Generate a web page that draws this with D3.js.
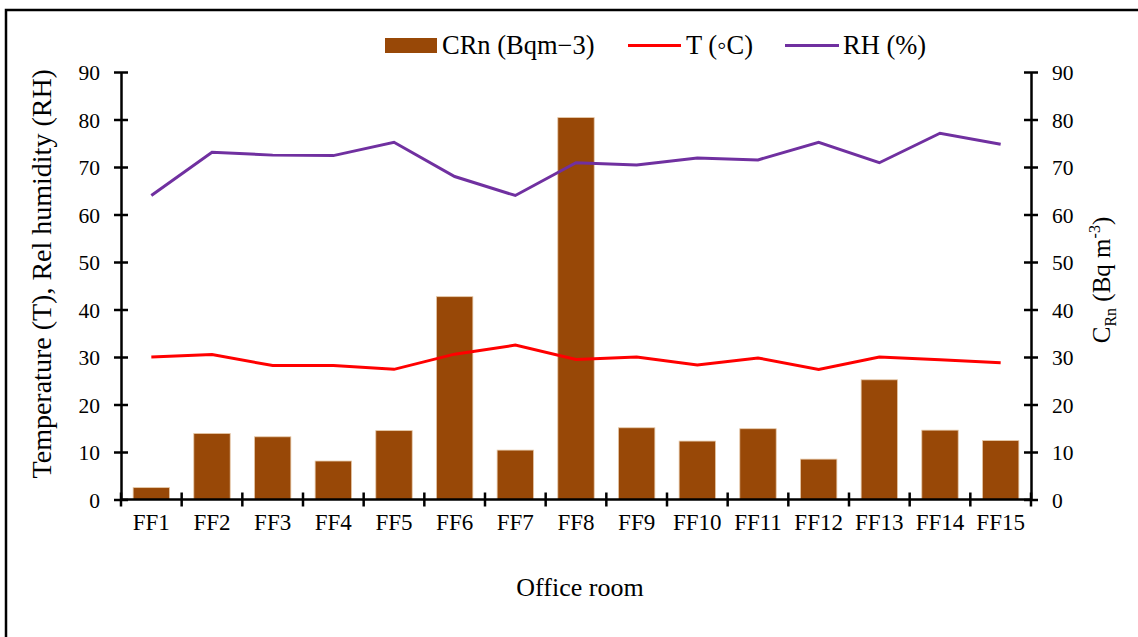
<!DOCTYPE html>
<html>
<head>
<meta charset="utf-8">
<script src="https://cdn.jsdelivr.net/npm/d3@7"></script>
<style>
  body { margin: 0; background: #fff; }
</style>
</head>
<body>
<svg id="chart" width="1138" height="637" font-family="'Liberation Serif', 'DejaVu Serif', serif"></svg>
<script>
// office rooms and the three measured series
const rooms = ["FF1", "FF2", "FF3", "FF4", "FF5", "FF6", "FF7", "FF8",
  "FF9", "FF10", "FF11", "FF12", "FF13", "FF14", "FF15"];
const radon = [2.5, 13.9, 13.2, 8.1, 14.5, 42.7, 10.4, 80.4, 15.1, 12.3, 14.9, 8.5, 25.2, 14.6, 12.4];
const temp = [30.0, 30.5, 28.2, 28.2, 27.4, 30.6, 32.5, 29.5, 30.0, 28.3, 29.8, 27.4, 30.0, 29.4, 28.8];
const humidity = [64.0, 73.1, 72.5, 72.4, 75.2, 68.0, 64.0, 70.9, 70.4, 71.9, 71.5, 75.2, 70.9, 77.1, 74.8];
const yTicks = [0, 10, 20, 30, 40, 50, 60, 70, 80, 90];

const colors = { bar: "#984807", temp: "#ff0000", rh: "#7030a0" };
const serif = "'Liberation Serif', 'DejaVu Serif', serif";

const svg = d3.select("#chart");
const plotLeft = 121, plotRight = 1031, plotTop = 72, plotBottom = 499.5;

// outer frame (runs off the right and bottom edges like the original)
svg.append("rect")
  .attr("x", 6).attr("y", 10)
  .attr("width", 1200).attr("height", 700)
  .attr("fill", "none").attr("stroke", "#000").attr("stroke-width", 2.5);

const x = d3.scaleBand()
  .domain(rooms)
  .range([plotLeft, plotRight])
  .paddingInner(0.4)
  .paddingOuter(0.2);

const yLeft = d3.scaleLinear().domain([0, 90]).range([plotBottom, plotTop]);
const yRight = d3.scaleLinear().domain([0, 90]).range([plotBottom, plotTop]);

// bars
svg.append("g").selectAll("rect")
  .data(rooms)
  .join("rect")
    .attr("x", d => x(d))
    .attr("y", (d, i) => yRight(radon[i]))
    .attr("width", x.bandwidth())
    .attr("height", (d, i) => yRight(0) - yRight(radon[i]))
    .attr("fill", colors.bar)
    .attr("stroke", "#e6c9a8")
    .attr("stroke-width", 0.8);

// lines
const line = d3.line()
  .x((d, i) => x(rooms[i]) + x.bandwidth() / 2)
  .y(d => yLeft(d));

svg.append("path").datum(temp)
  .attr("d", line).attr("fill", "none")
  .attr("stroke", colors.temp).attr("stroke-width", 3);

svg.append("path").datum(humidity)
  .attr("d", line).attr("fill", "none")
  .attr("stroke", colors.rh).attr("stroke-width", 3);

// axes: ticks cross the axis line on both sides
function styleAxis(g) {
  g.attr("font-family", serif).attr("font-size", 21.5);
  g.select(".domain").attr("stroke-width", 2.5);
  g.selectAll(".tick line").attr("stroke-width", 2.5);
  g.selectAll(".tick text").attr("fill", "#000");
}

const leftAxis = svg.append("g")
  .attr("transform", `translate(${plotLeft},0)`)
  .call(d3.axisLeft(yLeft).tickValues(yTicks).tickSizeInner(7).tickSizeOuter(0).tickPadding(14))
  .call(styleAxis);
leftAxis.selectAll(".tick line").attr("x1", 7);
leftAxis.selectAll(".tick text").attr("dy", "0.35em");

const rightAxis = svg.append("g")
  .attr("transform", `translate(${plotRight},0)`)
  .call(d3.axisRight(yRight).tickValues(yTicks).tickSizeInner(7).tickSizeOuter(0).tickPadding(14))
  .call(styleAxis);
rightAxis.selectAll(".tick line").attr("x1", -7);
rightAxis.selectAll(".tick text").attr("dy", "0.35em");

// category boundaries for the x ticks
const boundaries = d3.range(rooms.length + 1).map(i => plotLeft + i * x.step());
const xAxis = svg.append("g").attr("transform", `translate(0,${plotBottom})`);
xAxis.append("line")
  .attr("x1", plotLeft).attr("x2", plotRight)
  .attr("stroke", "#000").attr("stroke-width", 2.5);
xAxis.selectAll(".bt")
  .data(boundaries)
  .join("line")
    .attr("x1", d => d).attr("x2", d => d)
    .attr("y1", -7).attr("y2", 7)
    .attr("stroke", "#000").attr("stroke-width", 2.5);
xAxis.selectAll(".lbl")
  .data(rooms)
  .join("text")
    .attr("x", d => x(d) + x.bandwidth() / 2)
    .attr("y", 30)
    .attr("text-anchor", "middle")
    .attr("font-size", 23)
    .text(d => d);

// axis titles
svg.append("text")
  .attr("transform", `translate(51,${(plotTop + plotBottom) / 2 - 12}) rotate(-90)`)
  .attr("text-anchor", "middle")
  .attr("font-size", 28)
  .text("Temperature (T), Rel humidity (RH)");

const rt = svg.append("text")
  .attr("transform", `translate(1110,280) rotate(-90)`)
  .attr("text-anchor", "middle")
  .attr("font-size", 25);
rt.append("tspan").text("C");
rt.append("tspan").attr("dy", 6).attr("font-size", 16).text("Rn");
rt.append("tspan").attr("dy", -6).text(" (Bq m");
rt.append("tspan").attr("dy", -10).attr("font-size", 16).text("-3");
rt.append("tspan").attr("dy", 10).text(")");

svg.append("text")
  .attr("x", 580).attr("y", 596)
  .attr("text-anchor", "middle")
  .attr("font-size", 26)
  .text("Office room");

// legend
const legend = svg.append("g").attr("font-size", 26.5);
legend.append("rect")
  .attr("x", 385).attr("y", 38).attr("width", 52).attr("height", 15)
  .attr("fill", colors.bar);
legend.append("text").attr("x", 442).attr("y", 54).text("CRn (Bqm\u22123)");
legend.append("line")
  .attr("x1", 628).attr("x2", 681).attr("y1", 45.5).attr("y2", 45.5)
  .attr("stroke", colors.temp).attr("stroke-width", 3);
legend.append("text").attr("x", 686).attr("y", 54).text("T (\u25E6C)");
legend.append("line")
  .attr("x1", 785).attr("x2", 839).attr("y1", 45.5).attr("y2", 45.5)
  .attr("stroke", colors.rh).attr("stroke-width", 3);
legend.append("text").attr("x", 843).attr("y", 54).text("RH (%)");
</script>
</body>
</html>
